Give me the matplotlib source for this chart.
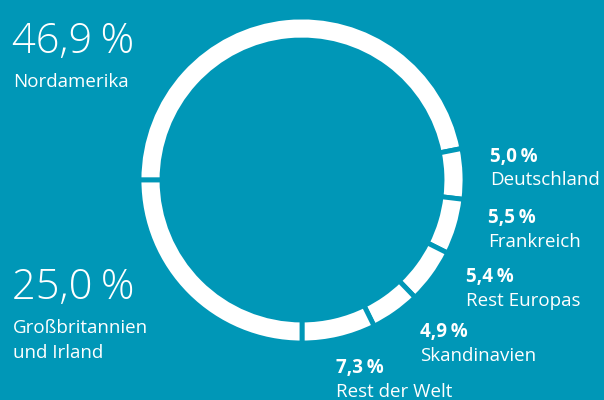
import matplotlib.pyplot as plt

# Umsatzanteile nach Regionen
regions = ["Nordamerika", "Deutschland", "Frankreich", "Rest Europas",
           "Skandinavien", "Rest der Welt", "Großbritannien\nund Irland"]
shares = [46.9, 5.0, 5.5, 5.4, 4.9, 7.3, 25.0]

bg = "#0097b7"
font = ["Open Sans", "DejaVu Sans"]

fig = plt.figure(figsize=(6.04, 4.0), dpi=100)
fig.patch.set_facecolor(bg)
ax = fig.add_axes([0, 0, 1, 1])
ax.set_facecolor(bg)

# Ring mit Lücken zwischen den Segmenten (y-Achse umgedreht -> im Uhrzeigersinn)
ax.pie(shares, center=(302, 180), radius=163, startangle=180,
       counterclock=True, colors=["white"] * len(shares),
       wedgeprops=dict(width=23, edgecolor=bg, linewidth=3.5))
ax.set_xlim(0, 604)
ax.set_ylim(400, 0)
ax.set_aspect("equal")
ax.axis("off")


def pct(v):
    return f"{v:.1f}".replace(".", ",") + "\u2009%"


# große Beschriftungen links
big = [(0, 12, 53, 87), (6, 12, 299, 333)]
for i, x, yv, yl in big:
    ax.text(x, yv, pct(shares[i]), color="white", fontsize=30,
            fontweight="light", family=font, va="baseline")
    for k, line in enumerate(regions[i].split("\n")):
        ax.text(x + 1, yl + k * 25, line, color="white", fontsize=13.5,
                family=font, va="baseline")

# kleine Beschriftungen rechts
small = [(1, 490, 162, 185), (2, 488, 223, 247), (3, 466, 282, 306),
         (4, 420, 337, 361), (5, 336, 373, 397)]
for i, x, yv, yl in small:
    ax.text(x, yv, pct(shares[i]), color="white", fontsize=13.5,
            fontweight="bold", family=font, va="baseline")
    ax.text(x, yl, regions[i], color="white", fontsize=13.5,
            family=font, va="baseline")

plt.savefig("out.png", dpi=100, facecolor=bg)
plt.close()
